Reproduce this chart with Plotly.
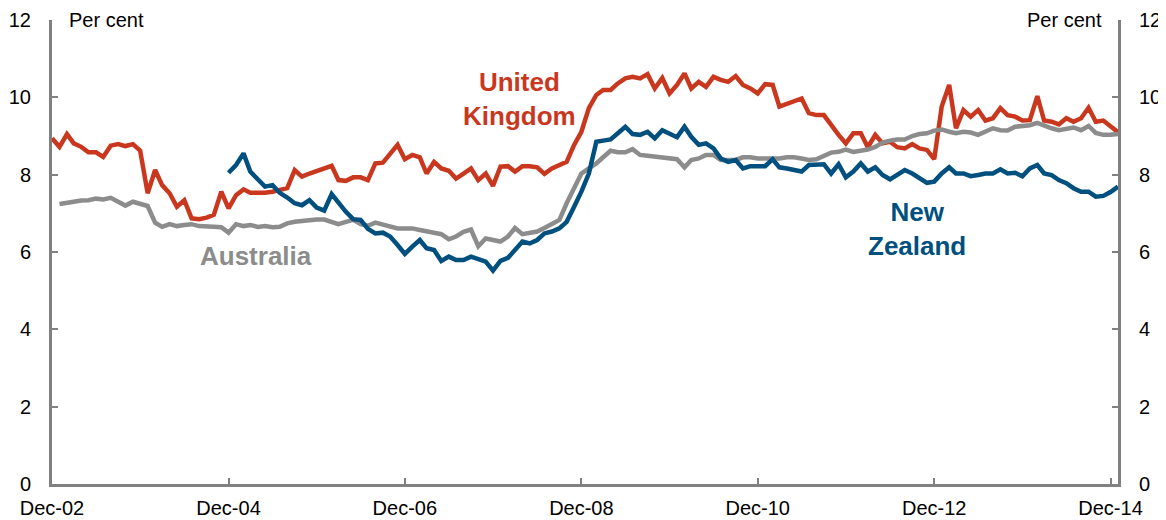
import pandas as pd
import plotly.graph_objects as go

# monthly observations, Dec-02 to Jan-15
months = pd.date_range("2002-12-01", "2015-01-01", freq="MS")

united_kingdom = [
    8.94, 8.72, 9.05, 8.81, 8.72, 8.58, 8.58, 8.46, 8.75, 8.79, 8.74, 8.79,
    8.62, 7.52, 8.12, 7.73, 7.52, 7.17, 7.34, 6.87, 6.85, 6.89, 6.96, 7.56,
    7.13, 7.47, 7.62, 7.53, 7.53, 7.53, 7.56, 7.60, 7.65, 8.12, 7.95, 8.03,
    8.10, 8.16, 8.23, 7.86, 7.84, 7.93, 7.93, 7.86, 8.29, 8.31, 8.55, 8.77,
    8.40, 8.51, 8.45, 8.03, 8.33, 8.16, 8.10, 7.90, 8.03, 8.16, 7.86, 8.03,
    7.71, 8.21, 8.22, 8.08, 8.22, 8.22, 8.19, 8.02, 8.16, 8.25, 8.33, 8.77,
    9.11, 9.72, 10.06, 10.19, 10.19, 10.36, 10.49, 10.53, 10.49, 10.60, 10.23, 10.50,
    10.10, 10.32, 10.62, 10.23, 10.40, 10.27, 10.53, 10.45, 10.40, 10.55, 10.32, 10.23,
    10.10, 10.34, 10.32, 9.76, 9.84, 9.90, 9.97, 9.59, 9.54, 9.54, 9.28, 9.03,
    8.81, 9.07, 9.07, 8.71, 9.03, 8.81, 8.85, 8.71, 8.68, 8.79, 8.68, 8.64,
    8.40, 9.76, 10.32, 9.20, 9.67, 9.50, 9.67, 9.40, 9.46, 9.72, 9.54, 9.50,
    9.40, 9.41, 10.03, 9.40, 9.37, 9.30, 9.46, 9.37, 9.46, 9.73, 9.37, 9.40,
    9.25, 9.10,
]

australia = [
    None, 7.24, 7.26, 7.30, 7.33, 7.34, 7.38, 7.36, 7.40, 7.30, 7.20, 7.30,
    7.24, 7.19, 6.76, 6.65, 6.72, 6.67, 6.70, 6.72, 6.67, 6.67, 6.65, 6.64,
    6.50, 6.72, 6.67, 6.70, 6.65, 6.67, 6.64, 6.65, 6.74, 6.78, 6.80, 6.83,
    6.84, 6.84, 6.78, 6.72, 6.78, 6.83, 6.72, 6.68, 6.76, 6.70, 6.65, 6.61,
    6.61, 6.61, 6.57, 6.55, 6.50, 6.46, 6.33, 6.40, 6.52, 6.58, 6.15, 6.35,
    6.30, 6.27, 6.40, 6.62, 6.46, 6.50, 6.53, 6.62, 6.74, 6.83, 7.26, 7.65,
    8.03, 8.16, 8.29, 8.45, 8.62, 8.58, 8.58, 8.66, 8.51, 8.49, 8.47, 8.45,
    8.42, 8.40, 8.19, 8.38, 8.42, 8.51, 8.51, 8.38, 8.38, 8.38, 8.45, 8.45,
    8.42, 8.42, 8.42, 8.42, 8.45, 8.45, 8.42, 8.38, 8.40, 8.48, 8.57, 8.59,
    8.65, 8.59, 8.62, 8.65, 8.72, 8.83, 8.88, 8.91, 8.91, 9.00, 9.05, 9.07,
    9.14, 9.17, 9.11, 9.07, 9.11, 9.09, 9.03, 9.11, 9.20, 9.15, 9.14, 9.24,
    9.26, 9.28, 9.34, 9.26, 9.20, 9.15, 9.20, 9.22, 9.15, 9.26, 9.08, 9.03,
    9.03, 9.05,
]

new_zealand = [None] * 24 + [
    8.05, 8.25, 8.55, 8.08, 7.88, 7.69, 7.73, 7.53, 7.41, 7.26, 7.21, 7.34,
    7.15, 7.07, 7.50, 7.26, 7.04, 6.85, 6.83, 6.60, 6.48, 6.50, 6.40, 6.18,
    5.95, 6.14, 6.31, 6.10, 6.05, 5.77, 5.88, 5.79, 5.79, 5.88, 5.81, 5.75,
    5.52, 5.77, 5.85, 6.05, 6.27, 6.22, 6.31, 6.48, 6.53, 6.61, 6.78, 7.17,
    7.56, 8.03, 8.85, 8.88, 8.91, 9.07, 9.24, 9.05, 9.03, 9.11, 8.94, 9.15,
    9.07, 8.97, 9.24, 8.98, 8.77, 8.81, 8.68, 8.42, 8.33, 8.38, 8.16, 8.22,
    8.22, 8.22, 8.40, 8.19, 8.16, 8.12, 8.08, 8.25, 8.27, 8.27, 8.03, 8.27,
    7.93, 8.08, 8.29, 8.08, 8.19, 7.99, 7.88, 7.99, 8.12, 8.03, 7.90, 7.79,
    7.82, 8.03, 8.19, 8.03, 8.03, 7.96, 7.99, 8.03, 8.03, 8.14, 8.03, 8.05,
    7.96, 8.16, 8.25, 8.03, 7.99, 7.86, 7.78, 7.65, 7.56, 7.56, 7.43, 7.45,
    7.55, 7.69,
]

tick_dates = ["2002-12-01", "2004-12-01", "2006-12-01", "2008-12-01",
              "2010-12-01", "2012-12-01", "2014-12-01"]
tick_labels = ["Dec-02", "Dec-04", "Dec-06", "Dec-08", "Dec-10", "Dec-12", "Dec-14"]
y_ticks = [0, 2, 4, 6, 8, 10, 12]

RED = "#C9381E"
GREY = "#8C8C8C"
BLUE = "#00507F"
AXIS = "#808080"
FONT = "Arial, Liberation Sans, sans-serif"

fig = go.Figure()
fig.add_trace(go.Scatter(x=months, y=united_kingdom, mode="lines",
                         line=dict(color=RED, width=4.5), name="United Kingdom"))
fig.add_trace(go.Scatter(x=months, y=australia, mode="lines",
                         line=dict(color=GREY, width=4.5), name="Australia"))
# NZ drawn on the right-hand axis (same scale) so that axis gets rendered
fig.add_trace(go.Scatter(x=months, y=new_zealand, mode="lines", yaxis="y2",
                         line=dict(color=BLUE, width=4.5), name="New Zealand"))

yaxis_common = dict(
    range=[0, 12], tickvals=y_ticks, showgrid=False, zeroline=False,
    showline=True, linecolor=AXIS, linewidth=3,
    ticks="inside", ticklen=6, tickwidth=2, tickcolor=AXIS,
    tickfont=dict(size=20, color="black", family=FONT),
    ticklabelstandoff=14, automargin=False,
)

# page body has an 8px margin, so the figure is a bit smaller than the window
fig.update_layout(
    width=1158, height=512,
    margin=dict(l=44, r=48, t=12, b=36),
    paper_bgcolor="white", plot_bgcolor="white",
    showlegend=False,
    font=dict(family=FONT, color="black"),
    xaxis=dict(
        type="date", range=["2002-12-01", "2015-01-01"],
        tickvals=tick_dates, ticktext=tick_labels,
        showgrid=False, zeroline=False,
        showline=True, linecolor=AXIS, linewidth=3,
        ticks="inside", ticklen=6, tickwidth=2, tickcolor=AXIS,
        tickfont=dict(size=20, color="black", family=FONT),
        ticklabelstandoff=4, automargin=False,
    ),
    yaxis=dict(side="left", **yaxis_common),
    yaxis2=dict(side="right", overlaying="y", anchor="x", **yaxis_common),
)

fig.add_annotation(text="Per cent", xref="paper", yref="paper", x=0, y=1,
                   xanchor="left", yanchor="middle", xshift=15, showarrow=False,
                   font=dict(size=20, color="black"))
fig.add_annotation(text="Per cent", xref="paper", yref="paper", x=1, y=1,
                   xanchor="right", yanchor="middle", xshift=-14, showarrow=False,
                   font=dict(size=20, color="black"))

fig.add_annotation(text="<b>United<br>Kingdom</b>", x="2008-03-20", y=9.95,
                   showarrow=False, align="center",
                   font=dict(size=26, color=RED))
fig.add_annotation(text="<b>Australia</b>", x="2005-03-25", y=5.9,
                   showarrow=False, font=dict(size=26, color=GREY))
fig.add_annotation(text="<b>New<br>Zealand</b>", x="2012-09-20", y=6.6,
                   showarrow=False, align="center",
                   font=dict(size=26, color=BLUE))

fig.write_html("out.html")
